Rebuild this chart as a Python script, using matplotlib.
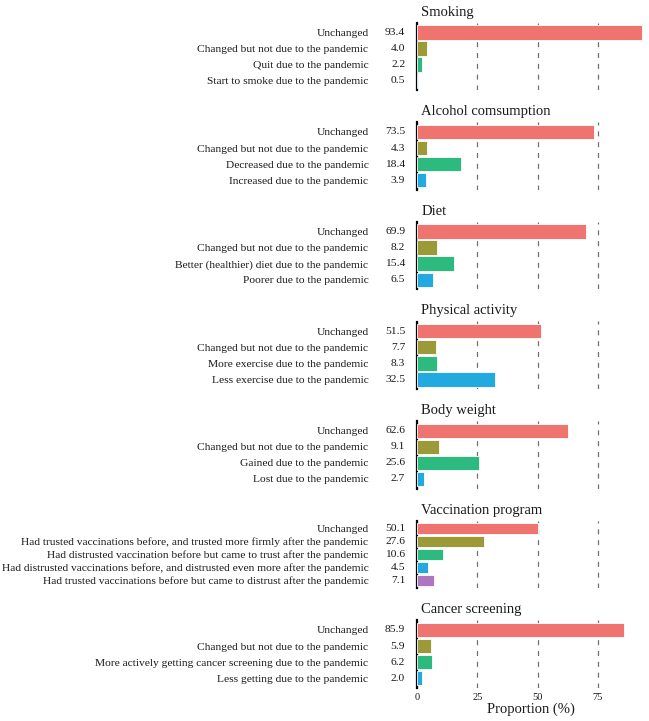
import matplotlib
matplotlib.use("Agg")
import matplotlib.pyplot as plt
from matplotlib.transforms import offset_copy

plt.rcParams['font.family'] = ['Liberation Serif', 'DejaVu Serif']
plt.rcParams['lines.scale_dashes'] = False

titles = ["Smoking", "Alcohol comsumption", "Diet", "Physical activity",
          "Body weight", "Vaccination program", "Cancer screening"]

smoking_labels = ["Unchanged", "Changed but not due to the pandemic",
                  "Quit due to the pandemic", "Start to smoke due to the pandemic"]
smoking_values = [93.4, 4.0, 2.2, 0.5]

alcohol_labels = ["Unchanged", "Changed but not due to the pandemic",
                  "Decreased due to the pandemic", "Increased due to the pandemic"]
alcohol_values = [73.5, 4.3, 18.4, 3.9]

diet_labels = ["Unchanged", "Changed but not due to the pandemic",
               "Better (healthier) diet due to the pandemic", "Poorer due to the pandemic"]
diet_values = [69.9, 8.2, 15.4, 6.5]

activity_labels = ["Unchanged", "Changed but not due to the pandemic",
                   "More exercise due to the pandemic", "Less exercise due to the pandemic"]
activity_values = [51.5, 7.7, 8.3, 32.5]

weight_labels = ["Unchanged", "Changed but not due to the pandemic",
                 "Gained due to the pandemic", "Lost due to the pandemic"]
weight_values = [62.6, 9.1, 25.6, 2.7]

vaccination_labels = ["Unchanged",
                      "Had trusted vaccinations before, and trusted more firmly after the pandemic",
                      "Had distrusted vaccination before but came to trust after the pandemic",
                      "Had distrusted vaccinations before, and distrusted even more after the pandemic",
                      "Had trusted vaccinations before but came to distrust after the pandemic"]
vaccination_values = [50.1, 27.6, 10.6, 4.5, 7.1]

screening_labels = ["Unchanged", "Changed but not due to the pandemic",
                    "More actively getting cancer screening due to the pandemic",
                    "Less getting due to the pandemic"]
screening_values = [85.9, 5.9, 6.2, 2.0]

panels = [
    (smoking_labels, smoking_values),
    (alcohol_labels, alcohol_values),
    (diet_labels, diet_values),
    (activity_labels, activity_values),
    (weight_labels, weight_values),
    (vaccination_labels, vaccination_values),
    (screening_labels, screening_values),
]

colors = ["#EF736E", "#9C9A38", "#2DBA7E", "#21A9E0", "#AD77C0"]
x_ticks = [0, 25, 50, 75]

W, H = 649, 721
fig = plt.figure(figsize=(W / 100, H / 100), dpi=100)

left_px, right_px = 417, 645
top0, pitch, ph = 22.7, 99.6, 67.5
text_color = "#1a1a1a"
label_size = 8.25

axes = []
for i, (title, (labels, values)) in enumerate(zip(titles, panels)):
    top = top0 + pitch * i
    ax = fig.add_axes([left_px / W, 1 - (top + ph) / H, (right_px - left_px) / W, ph / H])
    axes.append(ax)
    n = len(values)
    ypos = list(range(n))
    ax.barh(ypos, values, height=0.9, color=colors[:n], edgecolor="white",
            linewidth=0.6, zorder=3)
    ax.set_xlim(0, 94.5)
    ax.set_ylim(n - 1 + 0.6, -0.6)
    ax.set_xticks(x_ticks)
    ax.xaxis.grid(True, linestyle=(0, (3.6, 4.2)), color="#707070", linewidth=0.9)
    ax.set_axisbelow(True)
    for s in ["top", "right", "bottom"]:
        ax.spines[s].set_visible(False)
    ax.spines["left"].set_linewidth(1.6)
    ax.spines["left"].set_color("black")
    ax.set_yticks(ypos)
    ax.set_yticklabels(labels, fontsize=label_size, color=text_color)
    ax.tick_params(axis="y", length=0, pad=35)
    ax.tick_params(axis="x", length=0, pad=4, labelsize=7.5, labelcolor=text_color)
    if i < len(titles) - 1:
        ax.tick_params(axis="x", labelbottom=False)
    else:
        ax.set_xlabel("Proportion (%)", fontsize=10.5, color=text_color, labelpad=0)
    tr = offset_copy(ax.get_yaxis_transform(), fig=fig, x=-8.5, y=0, units="points")
    for y, v in zip(ypos, values):
        ax.text(0, y, f"{v:.1f}", transform=tr, ha="right", va="center",
                fontsize=label_size, color=text_color)
    ax.annotate(title, xy=(0, 1), xycoords="axes fraction", xytext=(3, 3),
                textcoords="offset points", ha="left", va="bottom",
                fontsize=10.5, color=text_color)

fig.savefig("out.png", dpi=100, facecolor="white")
